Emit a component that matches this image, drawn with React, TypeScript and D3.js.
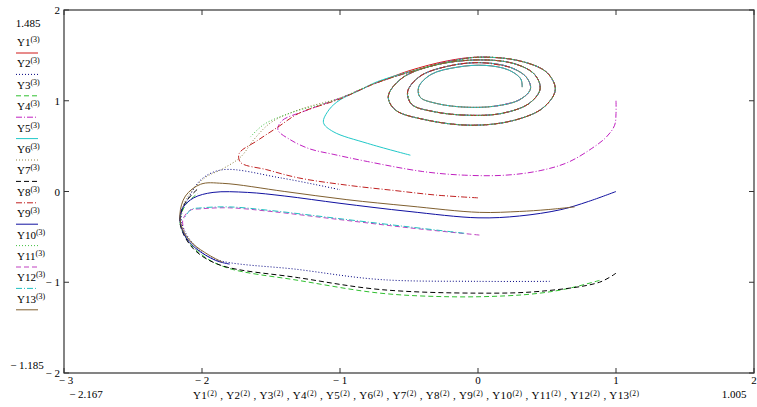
import React from "react";
import * as d3 from "d3";

type Pt = [number, number];

// spiral around the focus (clockwise, from the top)
const spiral: Pt[] = [
  [0.0, 1.48], [0.3, 1.44], [0.5, 1.31], [0.56, 1.12], [0.47, 0.92], [0.25, 0.78],
  [-0.05, 0.73], [-0.38, 0.79], [-0.6, 0.9], [-0.65, 1.05], [-0.55, 1.25], [-0.32, 1.39],
  [0.0, 1.45], [0.26, 1.41], [0.41, 1.29], [0.45, 1.13], [0.37, 0.97], [0.17, 0.86],
  [-0.07, 0.84], [-0.32, 0.88], [-0.48, 0.96], [-0.51, 1.1], [-0.42, 1.27], [-0.22, 1.38],
  [0.02, 1.42], [0.23, 1.37], [0.35, 1.26], [0.38, 1.13], [0.3, 1.01], [0.12, 0.94],
  [-0.1, 0.93], [-0.3, 0.97], [-0.42, 1.04], [-0.43, 1.15], [-0.34, 1.29], [-0.15, 1.37],
  [0.05, 1.39], [0.22, 1.34], [0.31, 1.24], [0.32, 1.15],
];

const y1: Pt[] = [[-0.73, 1.2], [-0.5, 1.33], [-0.22, 1.44]];
const y2: Pt[] = [
  [0.52, -0.99], [0.0, -0.99], [-0.71, -0.97], [-1.3, -0.86], [-1.92, -0.74], [-2.05, -0.6],
  [-2.13, -0.42], [-2.15, -0.27], [-2.09, -0.05], [-2.0, 0.14], [-1.85, 0.24], [-1.43, 0.15], [-1.0, 0.02],
];
const y3: Pt[] = [
  [0.88, -0.98], [0.65, -1.07], [0.45, -1.12], [0.2, -1.15], [-0.2, -1.16], [-0.71, -1.12],
  [-1.3, -0.98], [-1.82, -0.84], [-2.0, -0.7], [-2.12, -0.5], [-2.16, -0.32], [-2.12, -0.15], [-2.03, -0.02],
];
const y4: Pt[] = [
  [1.0, 1.0], [1.0, 0.86], [0.99, 0.73], [0.93, 0.6], [0.82, 0.47], [0.65, 0.32], [0.45, 0.23],
  [0.2, 0.18], [-0.1, 0.18], [-0.4, 0.22], [-0.8, 0.33], [-1.05, 0.41], [-1.22, 0.47], [-1.36, 0.57],
  [-1.45, 0.68], [-1.42, 0.78], [-1.25, 0.89], [-0.98, 1.04], [-0.73, 1.2], [-0.4, 1.36], [-0.2, 1.44],
];
const y5: Pt[] = [
  [-0.49, 0.4], [-0.8, 0.53], [-1.05, 0.66], [-1.12, 0.76], [-1.08, 0.9], [-1.0, 1.01],
  [-0.85, 1.12], [-0.73, 1.21], [-0.37, 1.37], [-0.18, 1.44],
];
const y6: Pt[] = [
  [-2.1, -0.55], [-2.16, -0.3], [-2.1, -0.05], [-1.98, 0.15], [-1.85, 0.25], [-1.72, 0.38],
  [-1.62, 0.58], [-1.5, 0.76], [-1.3, 0.9], [-0.98, 1.04], [-0.73, 1.2], [-0.37, 1.37], [-0.18, 1.44],
];
const y7: Pt[] = [
  [1.0, -0.9], [0.88, -1.0], [0.45, -1.1], [0.0, -1.12], [-0.71, -1.08], [-1.3, -0.95],
  [-1.87, -0.81], [-2.05, -0.65], [-2.14, -0.45], [-2.16, -0.3], [-2.12, -0.12], [-2.03, 0.03],
];
const y8: Pt[] = [
  [0.0, -0.07], [-0.3, -0.04], [-0.6, 0.01], [-0.95, 0.07], [-1.3, 0.15], [-1.53, 0.24],
  [-1.72, 0.32], [-1.73, 0.42], [-1.6, 0.56], [-1.45, 0.71], [-1.3, 0.86], [-1.0, 1.02],
  [-0.73, 1.2], [-0.37, 1.37], [-0.18, 1.44],
];
const y9: Pt[] = [
  [1.0, 0.0], [0.8, -0.11], [0.6, -0.2], [0.3, -0.27], [0.0, -0.29], [-0.5, -0.22], [-1.0, -0.13],
  [-1.4, -0.05], [-1.67, -0.01], [-1.92, -0.01], [-2.06, -0.07], [-2.14, -0.18], [-2.16, -0.3],
  [-2.13, -0.47], [-2.05, -0.62], [-1.9, -0.76], [-1.8, -0.8],
];
const y10: Pt[] = [[-1.65, 0.6], [-1.55, 0.74], [-1.35, 0.87], [-1.05, 1.0], [-0.75, 1.19], [-0.4, 1.36], [-0.2, 1.43]];
const y11: Pt[] = [
  [0.01, -0.48], [-0.5, -0.4], [-1.0, -0.31], [-1.5, -0.22], [-1.8, -0.18], [-2.0, -0.19],
  [-2.09, -0.21], [-2.14, -0.32], [-2.13, -0.42],
];
const y12: Pt[] = [
  [-0.1, -0.46], [-0.5, -0.39], [-1.0, -0.3], [-1.5, -0.21], [-1.8, -0.17], [-2.0, -0.18],
  [-2.08, -0.2], [-2.13, -0.3],
];
const y13: Pt[] = [
  [0.7, -0.17], [0.5, -0.2], [0.3, -0.22], [0.01, -0.23], [-0.5, -0.16], [-0.95, -0.09],
  [-1.4, 0.0], [-1.85, 0.09], [-2.01, 0.08], [-2.12, -0.05], [-2.16, -0.25], [-2.14, -0.42],
  [-2.07, -0.57], [-1.95, -0.7], [-1.85, -0.78],
];

const names = ["Y1", "Y2", "Y3", "Y4", "Y5", "Y6", "Y7", "Y8", "Y9", "Y10", "Y11", "Y12", "Y13"];
const colors = [
  "#d01818", "#000080", "#30c030", "#c020c0", "#20c8c8", "#8c8040", "#000000",
  "#c02020", "#1010a0", "#40c040", "#c040c0", "#20c0c0", "#806030",
];
const dashes = [
  "", "1,2", "5,3", "6,2,1,2", "", "1,2", "5,3", "6,2,1,2", "", "1,2", "5,3", "6,2,1,2", "",
];
const traces: Pt[][] = [
  [...y1, ...spiral], y2, y3, [...y4, ...spiral.slice(0, 30)], [...y5, ...spiral],
  [...y6, ...spiral.slice(0, 34)], y7, [...y8, ...spiral.slice(0, 26)], y9,
  [...y10, ...spiral.slice(0, 22)], y11, y12, y13,
];

const xTicks = [-3, -2, -1, 0, 1, 2];
const yTicks = [2, 1, 0, -1, -2];

const W = 757;
const H = 407;
const L = 64, R = 754, T = 10, B = 373;
const font = "'Liberation Serif', 'Times New Roman', serif";

const fmt = (v: number) => (v < 0 ? "\u2212 " + Math.abs(v) : String(v));

export default function App() {
  const x = d3.scaleLinear().domain([-3, 2]).range([L, R]);
  const y = d3.scaleLinear().domain([-2, 2]).range([B, T]);
  const line = d3
    .line<Pt>()
    .x((d) => x(d[0]))
    .y((d) => y(d[1]))
    .curve(d3.curveCatmullRom.alpha(0.5));

  return (
    <svg
      width={W}
      height={H}
      style={{ position: "absolute", left: 0, top: 0, background: "#fff" }}
      fontFamily={font}
    >
      <defs>
        <clipPath id="plot">
          <rect x={L} y={T} width={R - L} height={B - T} />
        </clipPath>
      </defs>

      {/* traces */}
      <g clipPath="url(#plot)" fill="none">
        {traces.map((t, i) => (
          <path
            key={i}
            d={line(t) || ""}
            stroke={colors[i]}
            strokeWidth={1}
            strokeDasharray={dashes[i] || undefined}
          />
        ))}
      </g>

      {/* frame */}
      <rect x={L} y={T} width={R - L} height={B - T} fill="none" stroke="#333" strokeWidth={1.2} />
      {xTicks.map((t) => (
        <g key={"x" + t} stroke="#333">
          <line x1={x(t)} x2={x(t)} y1={B} y2={B - 5} />
          <line x1={x(t)} x2={x(t)} y1={T} y2={T + 5} />
        </g>
      ))}
      {yTicks.map((t) => (
        <g key={"y" + t} stroke="#333">
          <line x1={L} x2={L + 5} y1={y(t)} y2={y(t)} />
          <line x1={R} x2={R - 5} y1={y(t)} y2={y(t)} />
        </g>
      ))}

      {/* tick labels */}
      <g fontSize={11} fill="#000">
        {yTicks.map((t) => (
          <text key={"yl" + t} x={L - 4} y={y(t) + 4} textAnchor="end">
            {fmt(t)}
          </text>
        ))}
        {xTicks.map((t) => (
          <text key={"xl" + t} x={x(t) + (t === -3 ? 2 : 0)} y={B + 11} textAnchor="middle">
            {fmt(t)}
          </text>
        ))}
        <text x={28} y={27} textAnchor="middle">1.485</text>
        <text x={27} y={369} textAnchor="middle">{"\u2212 1.185"}</text>
        <text x={86} y={398} textAnchor="middle">{"\u2212 2.167"}</text>
        <text x={734} y={398} textAnchor="middle">1.005</text>
        <text x={193} y={399} textLength={446} lengthAdjust="spacing">
          {names.map((n, i) => (
            <React.Fragment key={n}>
              <tspan>{n}</tspan>
              <tspan dy={-3.5} fontSize={7.5}>(2)</tspan>
              <tspan dy={3.5}>{i < names.length - 1 ? " , " : ""}</tspan>
            </React.Fragment>
          ))}
        </text>
      </g>

      {/* legend */}
      <g fontSize={11}>
        {names.map((n, i) => {
          const cy = 46 + i * 21.4;
          return (
            <g key={n}>
              <text x={17} y={cy}>
                <tspan>{n}</tspan>
                <tspan dy={-4} fontSize={8}>(3)</tspan>
              </text>
              <line
                x1={16}
                x2={38}
                y1={cy + 7}
                y2={cy + 7}
                stroke={colors[i]}
                strokeWidth={1}
                strokeDasharray={dashes[i] || undefined}
              />
            </g>
          );
        })}
      </g>
    </svg>
  );
}
